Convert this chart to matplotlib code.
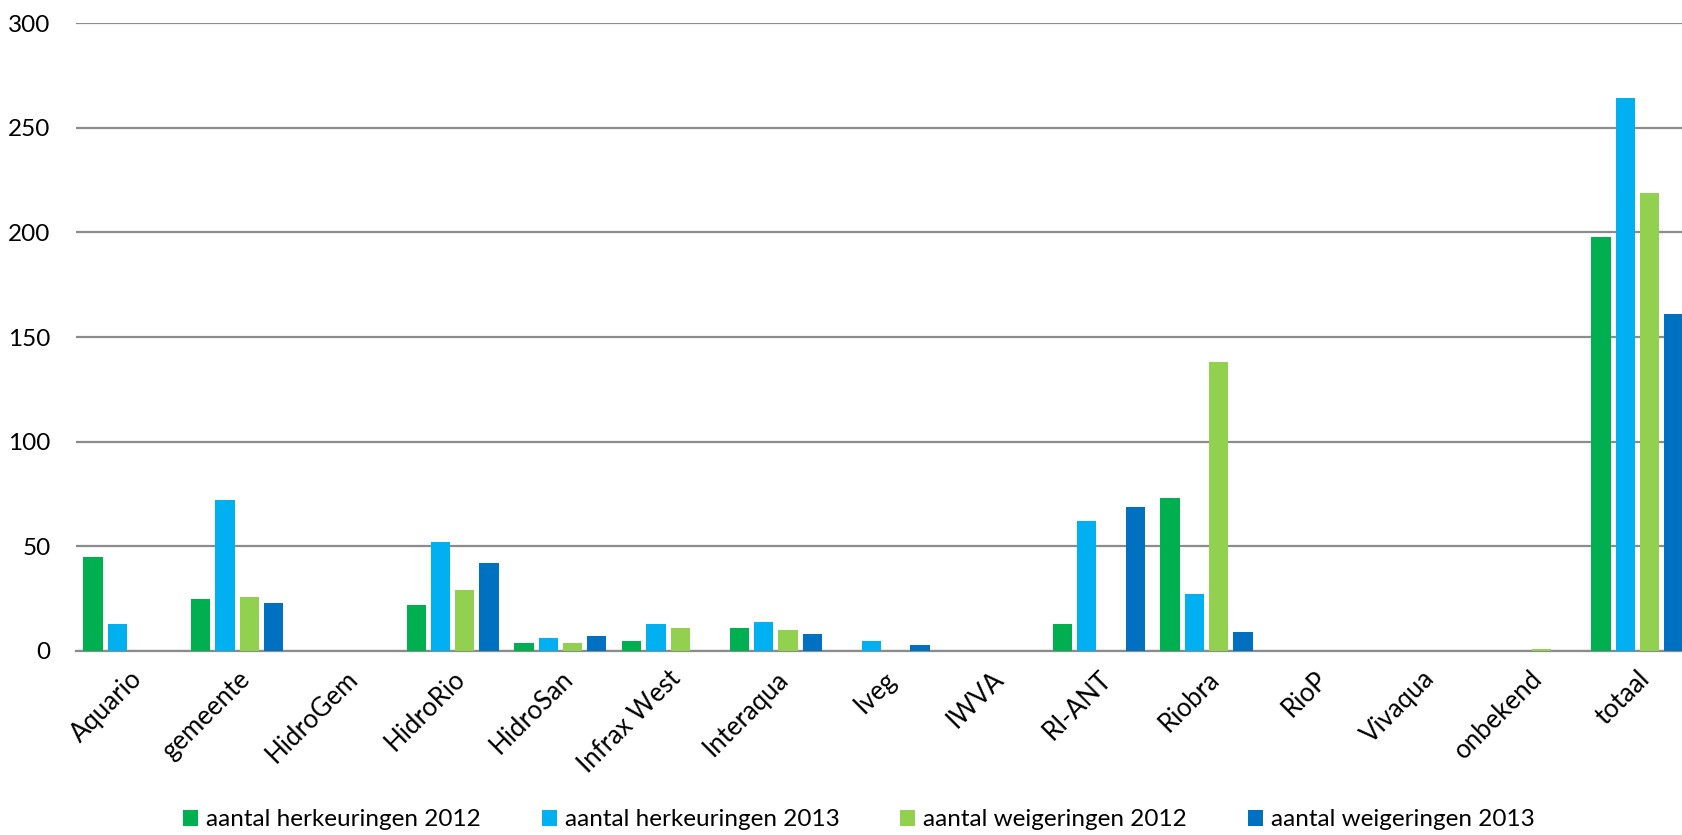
import numpy as np
import matplotlib.pyplot as plt

categories = ["Aquario", "gemeente", "HidroGem", "HidroRio", "HidroSan", "Infrax West",
              "Interaqua", "Iveg", "IWVA", "RI-ANT", "Riobra", "RioP", "Vivaqua",
              "onbekend", "totaal"]
herk_2012 = [45, 25, 0, 22, 4, 5, 11, 0, 0, 13, 73, 0, 0, 0, 198]
herk_2013 = [13, 72, 0, 52, 6, 13, 14, 5, 0, 62, 27, 0, 0, 0, 264]
weig_2012 = [0, 26, 0, 29, 4, 11, 10, 0, 0, 0, 138, 0, 0, 1, 219]
weig_2013 = [0, 23, 0, 42, 7, 0, 8, 3, 0, 69, 9, 0, 0, 0, 161]

series = [
    ("aantal herkeuringen 2012", herk_2012, "#00B050"),
    ("aantal herkeuringen 2013", herk_2013, "#00B0F0"),
    ("aantal weigeringen 2012", weig_2012, "#92D050"),
    ("aantal weigeringen 2013", weig_2013, "#0070C0"),
]

plt.rcParams['font.family'] = ['Lato', 'DejaVu Sans']
fs = 17.5

fig = plt.figure(figsize=(16.82, 8.35), dpi=100)
# axes runs past the right edge, like the cropped original
ax = fig.add_axes([0.045, 0.2204, 0.9605, 0.752])

x = np.arange(len(categories))
pitch = 0.2256
width = 0.179
for j, (label, vals, color) in enumerate(series):
    ax.bar(x + (j - 1.5) * pitch, vals, width, color=color, label=label, zorder=3)

ax.set_xlim(-0.5, len(categories) - 0.5)
ax.set_ylim(0, 300)
ax.set_yticks(range(0, 301, 50))
ax.yaxis.grid(True, color="#8c8c8c", linewidth=1.6, zorder=0)
for s in ["top", "right", "left"]:
    ax.spines[s].set_visible(False)
ax.spines["bottom"].set_color("#8c8c8c")
ax.spines["bottom"].set_linewidth(1.6)
ax.tick_params(axis="both", length=0, labelsize=fs, colors="black")
ax.tick_params(axis="y", pad=18)
ax.set_xticks(x)
ax.set_xticklabels(categories, rotation=45, ha="right", va="top", rotation_mode="anchor",
                   fontsize=18.5)
ax.tick_params(axis="x", pad=11)

fig.legend(loc="center", bbox_to_anchor=(0.5107, 0.018), ncol=4, frameon=False,
           fontsize=fs, handlelength=0.62, handleheight=0.62, handletextpad=0.33,
           columnspacing=2.5)

fig.savefig("out.png", dpi=100)
